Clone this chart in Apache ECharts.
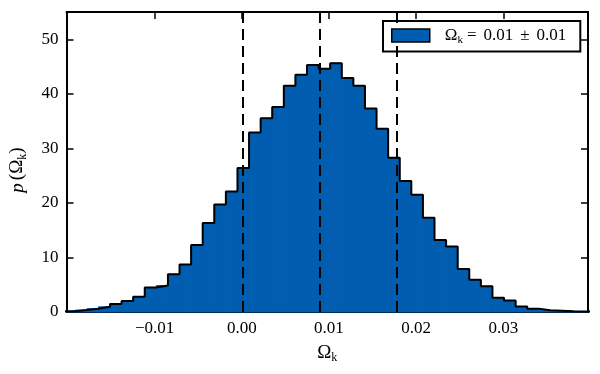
<!DOCTYPE html>
<html>
<head>
<meta charset="utf-8">
<script src="https://cdn.jsdelivr.net/npm/echarts@6/dist/echarts.min.js"></script>
<style>
  html, body { margin: 0; padding: 0; background: #fff; }
  #chart { width: 600px; height: 374px; }
</style>
</head>
<body>
<div id="chart"></div>
<script>
// histogram bins: left edge of first bin and width, in units of Omega_k
const binStart = -0.02043
const binWidth = 0.001329
const counts = [
  0.15, 0.35, 0.6, 0.95, 1.45, 2.0, 2.8, 4.5, 4.85, 6.9,
  8.7, 12.3, 16.3, 19.7, 22.1, 26.4, 32.9, 35.5, 37.6, 41.5,
  43.5, 45.3, 44.6, 45.6, 42.9, 41.5, 37.3, 33.6, 28.3, 24.0,
  21.5, 17.3, 13.2, 12.0, 7.9, 5.9, 4.7, 2.6, 2.1, 1.0,
  0.6, 0.3, 0.25, 0.15, 0.1, 0.05
]
// dashed lines: 16th, 50th, 84th percentiles
const percentiles = [0.0001, 0.00892, 0.01772]
const xTicks = [-0.01, 0.0, 0.01, 0.02, 0.03]
const yTicks = [0, 10, 20, 30, 40, 50]
const xMin = -0.0201
const xMax = 0.0397
const yMax = 55

const fillColor = '#005db0'
const font = 'Liberation Serif'

const bins = counts.map((c, i) => [binStart + i * binWidth, binStart + (i + 1) * binWidth, c])
const outline = bins.map((b) => [b[0], b[2]])
outline.push([bins[bins.length - 1][1], bins[bins.length - 1][2]])

const fmtX = (v) => {
  const s = Math.abs(v).toFixed(2)
  return v < -1e-9 ? '\u2212' + s : s
}

const chart = echarts.init(document.getElementById('chart'))

const tickStyle = { inside: true, length: 7, lineStyle: { color: '#000', width: 1.5 } }
const lineStyle = { show: true, onZero: false, lineStyle: { color: '#000', width: 2 } }

chart.setOption({
  animation: false,
  textStyle: { fontFamily: font },
  grid: { left: 63, right: 12, top: 12, bottom: 62 },
  legend: {
    left: 383,
    top: 21,
    padding: [6, 14, 6, 8],
    borderColor: '#000',
    borderWidth: 2,
    borderRadius: 0,
    itemWidth: 38,
    itemHeight: 13,
    data: [{
      name: 'hist',
      icon: 'rect',
      itemStyle: { color: fillColor, borderColor: '#000', borderWidth: 1.5 },
    }],
    formatter: () => '{a|Ω}{s|k}{op|=}{b|0.01}{op2|±}{b|0.01}',
    textStyle: {
      fontFamily: font,
      color: '#000',
      rich: {
        a: { fontFamily: font, fontSize: 17, lineHeight: 20, padding: [0, 0, 0, 10], verticalAlign: 'middle' },
        s: { fontFamily: font, fontSize: 11, lineHeight: 10, verticalAlign: 'bottom' },
        op: { fontFamily: font, fontSize: 17, lineHeight: 20, padding: [0, 7, 0, 4], verticalAlign: 'middle' },
        op2: { fontFamily: font, fontSize: 17, lineHeight: 20, padding: [0, 7, 0, 7], verticalAlign: 'middle' },
        b: { fontFamily: font, fontSize: 17, lineHeight: 20, verticalAlign: 'middle' },
      },
    },
  },
  xAxis: [
    {
      type: 'value',
      position: 'bottom',
      min: xMin,
      max: xMax,
      axisLine: lineStyle,
      axisTick: Object.assign({ customValues: xTicks }, tickStyle),
      splitLine: { show: false },
      axisLabel: {
        customValues: xTicks,
        formatter: fmtX,
        color: '#000',
        fontFamily: font,
        fontSize: 17,
        margin: 8,
      },
      name: '{a|Ω}{s|k}',
      nameLocation: 'middle',
      nameGap: 30,
      nameTextStyle: {
        rich: {
          a: { fontFamily: font, fontSize: 19, lineHeight: 22, color: '#000', verticalAlign: 'middle' },
          s: { fontFamily: font, fontSize: 12, lineHeight: 11, color: '#000', verticalAlign: 'bottom' },
        },
      },
    },
    {
      type: 'value',
      position: 'top',
      min: xMin,
      max: xMax,
      axisLine: lineStyle,
      axisTick: Object.assign({ customValues: xTicks }, tickStyle),
      axisLabel: { show: false },
      splitLine: { show: false },
    },
  ],
  yAxis: [
    {
      type: 'value',
      position: 'left',
      min: 0,
      max: yMax,
      axisLine: lineStyle,
      axisTick: Object.assign({ customValues: yTicks }, tickStyle),
      splitLine: { show: false },
      axisLabel: {
        customValues: yTicks,
        color: '#000',
        fontFamily: font,
        fontSize: 17,
        margin: 8,
      },
      name: '{i|p} {a|(Ω}{s|k}{a|)}',
      nameLocation: 'middle',
      nameRotate: 90,
      nameGap: 38,
      nameTextStyle: {
        padding: [0, 16, 0, 0],
        rich: {
          i: { fontFamily: font, fontStyle: 'italic', fontSize: 19, lineHeight: 22, color: '#000', verticalAlign: 'middle' },
          a: { fontFamily: font, fontSize: 19, lineHeight: 22, color: '#000', verticalAlign: 'middle' },
          s: { fontFamily: font, fontSize: 12, lineHeight: 11, color: '#000', verticalAlign: 'bottom' },
        },
      },
    },
    {
      type: 'value',
      position: 'right',
      min: 0,
      max: yMax,
      axisLine: lineStyle,
      axisTick: Object.assign({ customValues: yTicks }, tickStyle),
      axisLabel: { show: false },
      splitLine: { show: false },
    },
  ],
  series: [
    {
      name: 'hist',
      type: 'custom',
      xAxisIndex: 0,
      yAxisIndex: 0,
      data: bins,
      renderItem: (params, api) => {
        const p0 = api.coord([api.value(0), api.value(2)])
        const p1 = api.coord([api.value(1), 0])
        const shape = echarts.graphic.clipRectByRect(
          { x: p0[0], y: p0[1], width: p1[0] - p0[0], height: p1[1] - p0[1] },
          { x: params.coordSys.x, y: params.coordSys.y, width: params.coordSys.width, height: params.coordSys.height }
        )
        return shape && { type: 'rect', shape: shape, style: { fill: fillColor, stroke: fillColor, lineWidth: 1 } }
      },
      z: 1,
    },
    {
      name: 'outline',
      type: 'line',
      xAxisIndex: 0,
      yAxisIndex: 0,
      step: 'end',
      symbol: 'none',
      clip: true,
      data: outline,
      lineStyle: { color: '#000', width: 2 },
      z: 2,
      markLine: {
        silent: true,
        symbol: 'none',
        precision: 6,
        label: { show: false },
        lineStyle: { color: '#000', width: 2, type: [11, 6] },
        data: percentiles.map((v) => ({ xAxis: v })),
        z: 3,
      },
    },
  ],
})
</script>
</body>
</html>
